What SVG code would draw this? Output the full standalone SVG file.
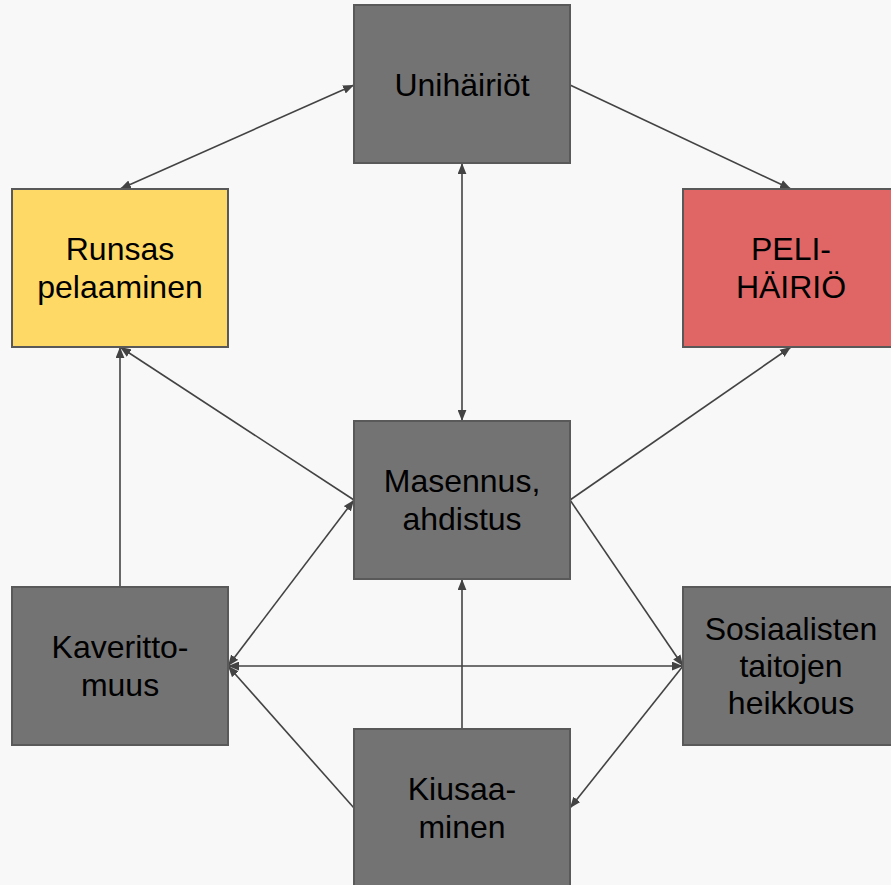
<svg xmlns="http://www.w3.org/2000/svg" width="891" height="885" viewBox="0 0 891 885">
<defs>
<style>
.box{stroke:#595959;stroke-width:2}
.g{fill:#737373}
.y{fill:#ffd966}
.r{fill:#e06666}
text{font-family:"Liberation Sans",Arial,sans-serif;font-size:32px;fill:#000;text-anchor:middle}
.c line{stroke:#434343;stroke-width:1.6;fill:none}
</style>
<marker id="a" viewBox="0 0 10 8" markerUnits="userSpaceOnUse" markerWidth="11" markerHeight="9" refX="10" refY="4" orient="auto-start-reverse">
<path d="M0,0 L10,4 L0,8 Z" fill="#434343"/>
</marker>
</defs>
<rect width="891" height="885" fill="#f8f8f8"/>
<g class="c" id="connectors">
<line x1="120" y1="189" x2="354" y2="85" marker-start="url(#a)" marker-end="url(#a)"/>
<line x1="570" y1="85" x2="791" y2="189" marker-end="url(#a)"/>
<line x1="462" y1="163" x2="462" y2="421" marker-start="url(#a)" marker-end="url(#a)"/>
<line x1="354" y1="500" x2="120" y2="347" marker-end="url(#a)"/>
<line x1="120" y1="587" x2="120" y2="347" marker-end="url(#a)"/>
<line x1="570" y1="500" x2="791" y2="347" marker-end="url(#a)"/>
<line x1="228" y1="666" x2="354" y2="500" marker-start="url(#a)" marker-end="url(#a)"/>
<line x1="228" y1="666" x2="683" y2="666" marker-start="url(#a)" marker-end="url(#a)"/>
<line x1="570" y1="500" x2="683" y2="666" marker-end="url(#a)"/>
<line x1="354" y1="808" x2="228" y2="666" marker-end="url(#a)"/>
<line x1="462" y1="729" x2="462" y2="579" marker-end="url(#a)"/>
<line x1="683" y1="666" x2="570" y2="808" marker-end="url(#a)"/>
</g>
<g id="unihairiot"><rect class="box g" x="354" y="5" width="216" height="158"/><text x="462" y="96">Unihäiriöt</text></g>
<g id="runsas"><rect class="box y" x="12" y="189" width="216" height="158"/><text x="120" y="260">Runsas</text><text x="120" y="298">pelaaminen</text></g>
<g id="pelihairio"><rect class="box r" x="683" y="189" width="216" height="158"/><text x="791" y="260">PELI-</text><text x="791" y="298">HÄIRIÖ</text></g>
<g id="masennus"><rect class="box g" x="354" y="421" width="216" height="158"/><text x="462" y="492">Masennus,</text><text x="462" y="530">ahdistus</text></g>
<g id="kaverittomuus"><rect class="box g" x="12" y="587" width="216" height="158"/><text x="120" y="658">Kaveritto-</text><text x="120" y="696">muus</text></g>
<g id="sosiaalisten"><rect class="box g" x="683" y="587" width="216" height="158"/><text x="791" y="640">Sosiaalisten</text><text x="791" y="677">taitojen</text><text x="791" y="714">heikkous</text></g>
<g id="kiusaaminen"><rect class="box g" x="354" y="729" width="216" height="158"/><text x="462" y="800">Kiusaa-</text><text x="462" y="838">minen</text></g>
</svg>
